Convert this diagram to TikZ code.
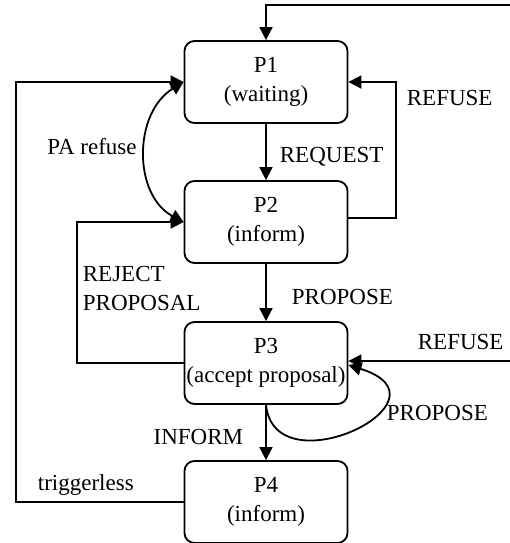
\documentclass[tikz,border=0pt]{standalone}
\usepackage{fontspec}
\setmainfont{Liberation Serif}
\usetikzlibrary{arrows.meta}
\begin{document}
\begin{tikzpicture}[x=0.5pt,y=-0.5pt,
  font=\fontsize{11.5}{14.5}\selectfont,
  every path/.style={line width=0.9pt},
  state/.style={draw, rounded corners=5pt, minimum width=81.5pt, minimum height=41pt, inner sep=0pt, align=center},
  lbl/.style={inner sep=0pt},
  arr/.style={-{Triangle[length=6.5pt,width=6.5pt]}},
  darr/.style={{Triangle[length=6.5pt,width=6.5pt]}-{Triangle[length=6.5pt,width=6.5pt]}}]
\useasboundingbox (0,0) rectangle (510,543);
\node[state] (P1) at (266,82) {P1\\(waiting)};
\node[state] (P2) at (266,222) {P2\\(inform)};
\node[state] (P3) at (266,363) {P3\\(accept proposal)};
\node[state] (P4) at (266,502) {P4\\(inform)};
\coordinate (TR) at (510,5);
\coordinate (L) at (16,82);
\coordinate (R1) at (396,82);
\coordinate (L2) at (77,222);
\coordinate (R3) at (510,361);
% connectors
\draw[arr] (TR) -| (P1.north);
\draw[arr] (P1) -- (P2);
\draw[arr] (P2) -- (P3);
\draw[arr] (P3) -- (P4);
\draw[arr] (P4.west) -| (L) -- (P1.west);
\draw[arr] ([yshift=2pt]P2.east) -| (R1) -- (P1.east);
\draw[arr] (P3.west) -| (L2) -- (P2.west);
\draw[arr] (R3) -- (P3.east |- R3);
\draw[darr] (P2.west) .. controls (133,195) and (133,113) .. (P1.west);
\draw[arr] (P3.south) .. controls (275,490) and (460,400) .. ([yshift=-1pt]P3.east);
% labels
\node[lbl, anchor=west] (lreq) at (279,157) {REQUEST};
\node[lbl, anchor=west] (lref1) at (406,98) {REFUSE};
\node[lbl] (lpa) at (92,147) {PA refuse};
\node[lbl, anchor=west, align=left] (lrej) at (82,288) {REJECT\\PROPOSAL};
\node[lbl, anchor=west] (lprop1) at (291,297) {PROPOSE};
\node[lbl, anchor=west] (lref2) at (417,342) {REFUSE};
\node[lbl, anchor=west] (lprop2) at (386,413) {PROPOSE};
\node[lbl, anchor=east] (linf) at (244,437) {INFORM};
\node[lbl, anchor=west] (ltrig) at (37,485) {triggerless};
\end{tikzpicture}
\end{document}
